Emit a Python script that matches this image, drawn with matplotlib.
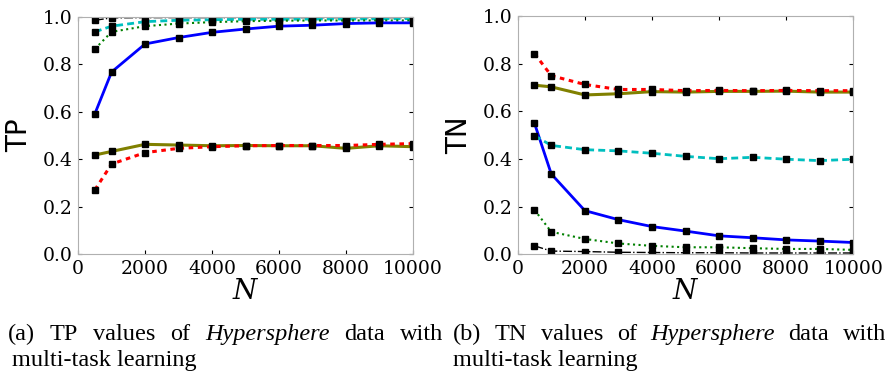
import matplotlib
matplotlib.use('Agg')
import matplotlib.pyplot as plt

plt.rcParams['font.family'] = 'DejaVu Serif'
plt.rcParams['mathtext.fontset'] = 'dejavuserif'

N = [500, 1000, 2000, 3000, 4000, 5000, 6000, 7000, 8000, 9000, 10000]

# TP values (left panel)
tp_black = [0.986, 0.996, 0.997, 0.997, 0.997, 0.997, 0.997, 0.997, 0.997, 0.997, 0.997]
tp_cyan = [0.937, 0.961, 0.980, 0.986, 0.988, 0.990, 0.990, 0.991, 0.991, 0.992, 0.993]
tp_green = [0.865, 0.937, 0.961, 0.972, 0.978, 0.982, 0.984, 0.985, 0.985, 0.985, 0.985]
tp_blue = [0.592, 0.768, 0.886, 0.913, 0.935, 0.949, 0.961, 0.965, 0.972, 0.975, 0.975]
tp_olive = [0.418, 0.433, 0.463, 0.460, 0.457, 0.458, 0.457, 0.457, 0.446, 0.457, 0.453]
tp_red = [0.271, 0.380, 0.428, 0.446, 0.453, 0.457, 0.458, 0.458, 0.458, 0.463, 0.466]

# TN values (right panel)
tn_red = [0.843, 0.750, 0.713, 0.692, 0.692, 0.687, 0.688, 0.687, 0.688, 0.687, 0.687]
tn_olive = [0.710, 0.703, 0.669, 0.674, 0.683, 0.681, 0.684, 0.684, 0.685, 0.681, 0.681]
tn_cyan = [0.498, 0.457, 0.439, 0.434, 0.424, 0.411, 0.401, 0.407, 0.399, 0.393, 0.399]
tn_blue = [0.550, 0.337, 0.183, 0.145, 0.116, 0.097, 0.077, 0.069, 0.060, 0.055, 0.049]
tn_green = [0.186, 0.094, 0.064, 0.045, 0.035, 0.029, 0.029, 0.025, 0.022, 0.022, 0.018]
tn_black = [0.035, 0.013, 0.011, 0.008, 0.007, 0.006, 0.006, 0.005, 0.005, 0.005, 0.005]

xticks = [0, 2000, 4000, 6000, 8000, 10000]
yticks = [0.0, 0.2, 0.4, 0.6, 0.8, 1.0]

styles = {
    'black': dict(color='black', ls='-.', lw=1.0),
    'cyan': dict(color='c', ls=(0, (2.5, 1.5)), lw=2.0),
    'green': dict(color='g', ls=':', lw=1.5),
    'blue': dict(color='b', ls='-', lw=2.0),
    'olive': dict(color='olive', ls='-', lw=2.2),
    'red': dict(color='r', ls=(0, (1.5, 1.5)), lw=2.2),
}

fig = plt.figure(figsize=(8.88, 3.76), dpi=100)
ax1 = fig.add_axes([0.088, 0.324, 0.377, 0.631])
ax2 = fig.add_axes([0.583, 0.324, 0.378, 0.633])


def draw(ax, series, ylabel, ylab_x):
    for name, vals in series:
        ax.plot(N, vals, marker='s', ms=4.2, mfc='black', mec='black', **styles[name])
    ax.set_xlim(0, 10000)
    ax.set_ylim(0, 1.0)
    ax.set_xticks(xticks)
    ax.set_yticks(yticks)
    ax.set_yticklabels(['%.1f' % t for t in yticks])
    ax.tick_params(direction='in', length=3, width=0.8, top=True, right=True, pad=4,
                   labelsize=13.5)
    for s in ax.spines.values():
        s.set_color('#b0b0b0')
        s.set_linewidth(0.8)
    ax.set_xlabel('$N$', fontsize=20, labelpad=0)
    ax.set_ylabel(ylabel, fontsize=20, family='DejaVu Sans')
    ax.yaxis.set_label_coords(ylab_x, 0.5)


draw(ax1, [('black', tp_black), ('cyan', tp_cyan), ('green', tp_green),
           ('blue', tp_blue), ('olive', tp_olive), ('red', tp_red)], 'TP', -0.135)
draw(ax2, [('black', tn_black), ('green', tn_green), ('blue', tn_blue),
           ('cyan', tn_cyan), ('olive', tn_olive), ('red', tn_red)], 'TN', -0.132)

# captions
cap_font = dict(family='Liberation Serif', fontsize=17.5)
renderer = fig.canvas.get_renderer()


def justified(words, x0, x1, y, italic=()):
    texts = []
    for i, w in enumerate(words):
        t = fig.text(0, y, w, style='italic' if i in italic else 'normal',
                     transform=None, **cap_font)
        texts.append(t)
    widths = [t.get_window_extent(renderer).width for t in texts]
    gap = (x1 - x0 - sum(widths)) / (len(words) - 1)
    x = x0
    for t, w in zip(texts, widths):
        t.set_x(x)
        x += w + gap


fig.canvas.draw()
justified(['(a)', 'TP', 'values', 'of', 'Hypersphere', 'data', 'with'], 8, 443, 376 - 340, italic=(4,))
justified(['(b)', 'TN', 'values', 'of', 'Hypersphere', 'data', 'with'], 453, 886, 376 - 340, italic=(4,))
fig.text(12, 376 - 366, 'multi-task learning', transform=None, **cap_font)
fig.text(453, 376 - 366, 'multi-task learning', transform=None, **cap_font)

fig.savefig('out.png', dpi=100)
